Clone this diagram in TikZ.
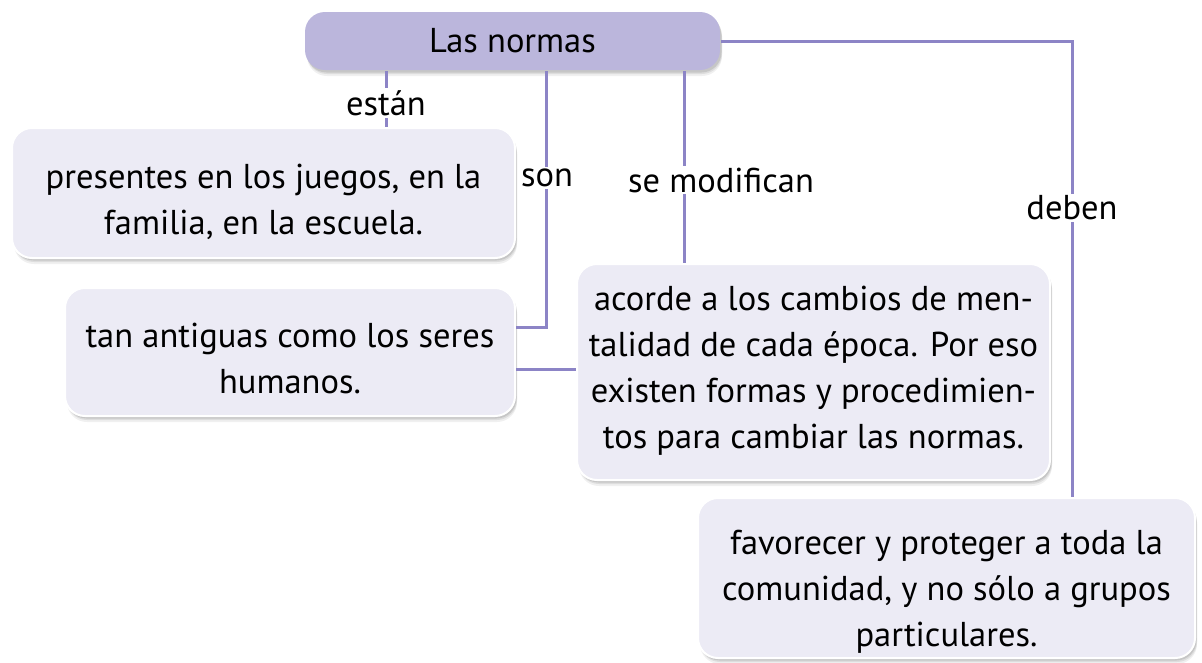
\documentclass[tikz,border=0pt]{standalone}
\usepackage{fontspec}
\setmainfont{PT Sans}
\usetikzlibrary{shadows}
\definecolor{linec}{HTML}{8C84C6}
\definecolor{topfill}{HTML}{BBB6DC}
\definecolor{boxfill}{HTML}{ECEBF5}
\tikzset{
  x=1pt,y=-1pt,
  softshadow/.style={
    preaction={fill=black, opacity=0.06, transform canvas={xshift=2pt, yshift=-6pt}},
    preaction={fill=black, opacity=0.08, transform canvas={xshift=2pt, yshift=-4pt}},
    preaction={fill=black, opacity=0.10, transform canvas={xshift=1.5pt, yshift=-2.5pt}}},
  basebox/.style={rounded corners=20pt, draw=white, line width=2pt, inner sep=0pt, softshadow},
  topbox/.style={basebox, fill=topfill, draw=none, align=center, font=\fontsize{34.5}{46}\selectfont},
  conbox/.style={basebox, fill=boxfill},
  boxtext/.style={align=center, inner sep=0pt, font=\fontsize{34.5}{46}\selectfont},
  conn/.style={draw=linec, line width=3pt},
  lbl/.style={fill=white, inner sep=2pt, font=\fontsize{34.5}{40}\selectfont}
}
\begin{document}
\begin{tikzpicture}
\useasboundingbox (0,0) rectangle (1202,662);
\node[topbox, minimum width=415pt, minimum height=58pt] (top) at (512.5,41) {Las normas};
\node[conbox, minimum width=503pt, minimum height=130pt] (b1) at (263.5,193) {};
\node[boxtext] (t1) at (263.5,202) {presentes en los juegos, en la\\familia, en la escuela.};
\node[conbox, minimum width=450pt, minimum height=128pt] (b2) at (290,352) {};
\node[boxtext] (t2) at (290,358) {tan antiguas como los seres\\humanos.};
\node[conbox, minimum width=473pt, minimum height=216pt] (b3) at (813.5,372) {};
\node[boxtext] (t3) at (813.5,371) {acorde a los cambios de men-\\talidad de cada época. Por eso\\existen formas y procedimien-\\tos para cambiar las normas.};
\node[conbox, minimum width=497pt, minimum height=160pt] (b4) at (946.5,578) {};
\node[boxtext] (t4) at (946.5,592) {favorecer y proteger a toda la\\comunidad, y no sólo a grupos\\particulares.};
\coordinate (xe) at (386,0);
\coordinate (xs) at (546,0);
\coordinate (xm) at (684,0);
\coordinate (xd) at (1072,0);
\coordinate (ys) at (0,327);
\coordinate (yh) at (0,369);
\draw[conn] (top.south -| xe) -- (b1.north -| xe);
\node[lbl] (le) at (386,103) {están};
\draw[conn] (top.south -| xs) -- (xs |- ys) -- (b2.east |- ys);
\node[lbl] (ls) at (547,178) {son};
\draw[conn] (top.south -| xm) -- (b3.north -| xm);
\node[lbl] (lm) at (721,180) {se modifican};
\draw[conn] (b2.east |- yh) -- (b3.west |- yh);
\draw[conn] (top.east) -- (xd |- top.east) -- (b4.north -| xd);
\node[lbl] (ld) at (1072,208) {deben};
\end{tikzpicture}
\end{document}
